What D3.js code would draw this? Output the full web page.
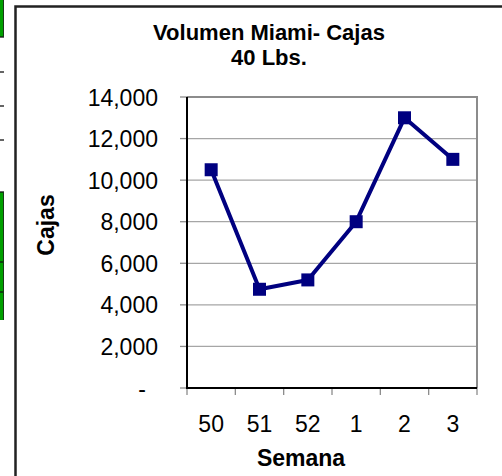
<!DOCTYPE html>
<html>
<head>
<meta charset="utf-8">
<script src="https://cdn.jsdelivr.net/npm/d3@7"></script>
<style>
  html, body { margin: 0; padding: 0; background: #fff; }
  svg { display: block; }
  text { font-family: "Liberation Sans", Arial, sans-serif; fill: #000; }
</style>
</head>
<body>
<svg id="chart" width="502" height="476"></svg>
<script>
const categories = ["50", "51", "52", "1", "2", "3"];
const values = [10500, 4750, 5200, 8000, 13000, 11000];
const yTicks = [0, 2000, 4000, 6000, 8000, 10000, 12000, 14000];
const titleLines = ["Volumen Miami- Cajas", "40 Lbs."];
const xTitle = "Semana";
const yTitle = "Cajas";

const svg = d3.select("#chart");
const plot = { left: 187, right: 477, top: 97, bottom: 388 };

// left-edge artifacts (cropped neighbouring cells)
const deco = svg.append("g");
deco.append("rect").attr("x", 0).attr("y", 0).attr("width", 3).attr("height", 37).attr("fill", "#00a000");
deco.append("rect").attr("x", 0).attr("y", 192).attr("width", 3).attr("height", 128).attr("fill", "#00a000");
[37, 72, 106, 140, 192, 262, 292].forEach(yy => {
  deco.append("line").attr("x1", 0).attr("x2", 4).attr("y1", yy).attr("y2", yy)
    .attr("stroke", "#111").attr("stroke-width", 1.3);
});
deco.append("line").attr("x1", 3.5).attr("x2", 3.5).attr("y1", 0).attr("y2", 37).attr("stroke", "#1a3a1a").attr("stroke-width", 1);
deco.append("line").attr("x1", 3.5).attr("x2", 3.5).attr("y1", 192).attr("y2", 320).attr("stroke", "#1a3a1a").attr("stroke-width", 1);

// outer chart frame
svg.append("rect").attr("x", 15.5).attr("y", 6.5).attr("width", 600).attr("height", 600)
  .attr("fill", "none").attr("stroke", "#222").attr("stroke-width", 2.5);

const x = d3.scaleBand().domain(categories).range([plot.left, plot.right]).padding(0);
const y = d3.scaleLinear().domain([0, 14000]).range([plot.bottom, plot.top]);

// gridlines
svg.append("g").selectAll("line").data(yTicks.filter(d => d > 0 && d < 14000)).join("line")
  .attr("x1", plot.left).attr("x2", plot.right)
  .attr("y1", d => y(d)).attr("y2", d => y(d))
  .attr("stroke", "#a6a6a6").attr("stroke-width", 1.3);

// plot top/right border (gray)
svg.append("path")
  .attr("d", `M${plot.left},${y(14000)}H${plot.right}V${plot.bottom}`)
  .attr("fill", "none").attr("stroke", "#8c8c8c").attr("stroke-width", 2);

// Y axis
const fmt = d3.format(",");
const yAxis = svg.append("g");
yAxis.selectAll("line.tick").data(yTicks).join("line")
  .attr("class", "tick")
  .attr("x1", plot.left - 7).attr("x2", plot.left)
  .attr("y1", d => y(d)).attr("y2", d => y(d))
  .attr("stroke", "#8c8c8c").attr("stroke-width", 1.3);
yAxis.selectAll("text").data(yTicks).join("text")
  .attr("x", d => d === 0 ? 146 : 158)
  .attr("y", d => y(d) + 8.5)
  .attr("text-anchor", "end")
  .style("font-size", "23px")
  .text(d => d === 0 ? "-" : fmt(d));

// X axis ticks (band boundaries)
const bounds = categories.map(c => x(c)).concat([x(categories[categories.length - 1]) + x.bandwidth()]);
svg.append("g").selectAll("line").data(bounds).join("line")
  .attr("x1", d => d).attr("x2", d => d)
  .attr("y1", plot.bottom).attr("y2", plot.bottom + 7)
  .attr("stroke", "#8c8c8c").attr("stroke-width", 1.3);
svg.append("g").selectAll("text").data(categories).join("text")
  .attr("x", d => x(d) + x.bandwidth() / 2)
  .attr("y", 432)
  .attr("text-anchor", "middle")
  .style("font-size", "23px")
  .text(d => d);

// axis lines (black)
svg.append("path")
  .attr("d", `M${plot.left},${y(14000)}V${plot.bottom}H${plot.right}`)
  .attr("fill", "none").attr("stroke", "#000").attr("stroke-width", 2);

// series line
const pts = categories.map((c, i) => [x(c) + x.bandwidth() / 2, y(values[i])]);
svg.append("path")
  .attr("d", d3.line()(pts))
  .attr("fill", "none").attr("stroke", "#000080").attr("stroke-width", 4)
  .attr("stroke-linejoin", "round");
const ms = 13;
svg.append("g").selectAll("rect").data(pts).join("rect")
  .attr("x", d => d[0] - ms / 2).attr("y", d => d[1] - ms / 2)
  .attr("width", ms).attr("height", ms)
  .attr("fill", "#000080");

// titles
svg.append("text").attr("x", 269).attr("y", 40).attr("text-anchor", "middle")
  .style("font-size", "22px").style("font-weight", "bold").text(titleLines[0]);
svg.append("text").attr("x", 269).attr("y", 65).attr("text-anchor", "middle")
  .style("font-size", "22px").style("font-weight", "bold").text(titleLines[1]);
svg.append("text").attr("x", 301).attr("y", 466).attr("text-anchor", "middle")
  .style("font-size", "23px").style("font-weight", "bold").text(xTitle);
svg.append("text").attr("transform", "translate(54,225) rotate(-90)").attr("text-anchor", "middle")
  .style("font-size", "23px").style("font-weight", "bold").text(yTitle);
</script>
</body>
</html>
